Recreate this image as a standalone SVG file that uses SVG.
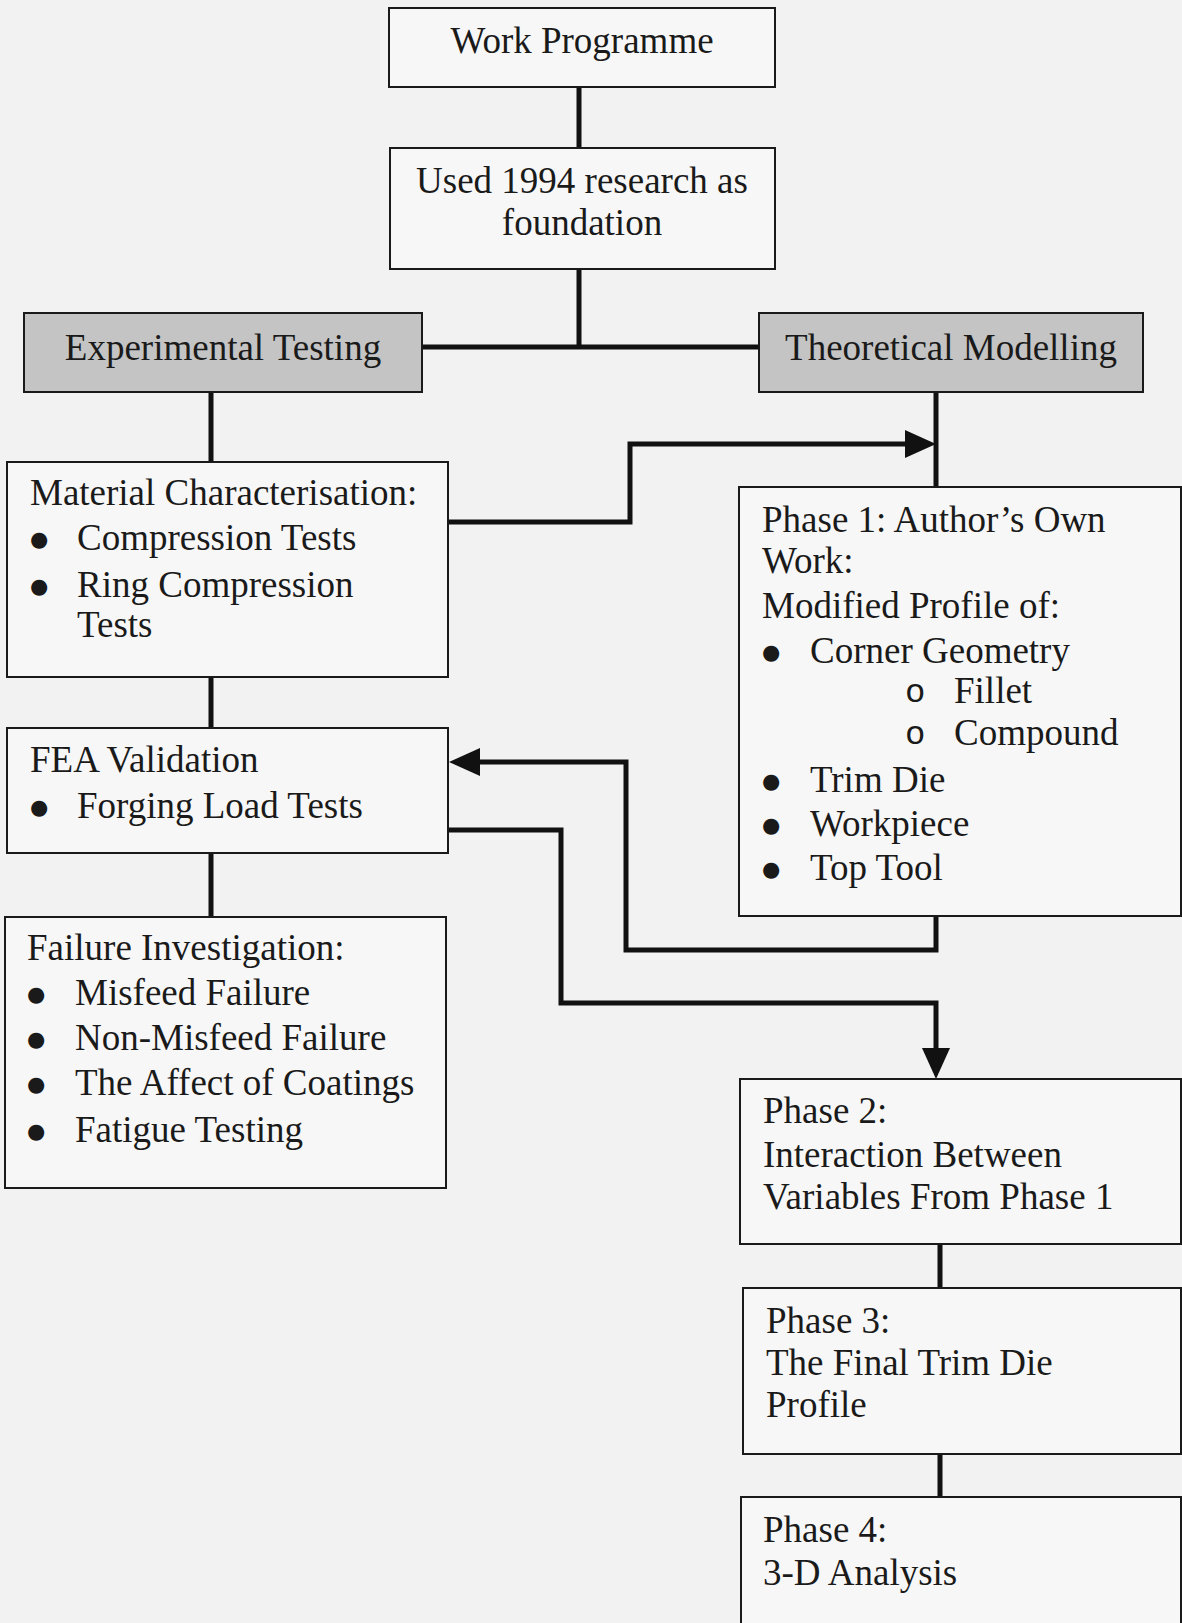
<svg xmlns="http://www.w3.org/2000/svg" width="1182" height="1623" viewBox="0 0 1182 1623">
<defs>
<style>
.box{fill:#f7f7f7;stroke:#1a1a1a;stroke-width:2}
.hdr{fill:#c4c4c4;stroke:#1a1a1a;stroke-width:2}
text{font-family:"Liberation Serif","Times New Roman",serif;font-size:37px;fill:#1a1a1a}
.c{text-anchor:middle}
.b{font-family:"DejaVu Sans",sans-serif;font-size:21px}
.o{font-family:"Liberation Mono","Courier New",monospace;font-size:34px}
.conn{fill:none;stroke:#111;stroke-width:5;stroke-linejoin:miter}
</style>
<marker id="arr" viewBox="0 -14 31 28" refX="0" refY="0" markerWidth="31" markerHeight="28" markerUnits="userSpaceOnUse" orient="auto">
<path d="M0,-14 L31,0 L0,14 z" fill="#111"/>
</marker>
</defs>
<rect width="1182" height="1623" fill="#f2f2f2"/>
<g id="connectors">
<path class="conn" d="M579,87 V148"/>
<path class="conn" d="M579,269 V347"/>
<path class="conn" d="M422,347 H759"/>
<path class="conn" d="M211,392 V462"/>
<path class="conn" d="M211,677 V728"/>
<path class="conn" d="M211,853 V917"/>
<path class="conn" d="M936,392 V487"/>
<path class="conn" d="M940,1244 V1288"/>
<path class="conn" d="M940,1454 V1497"/>
<path class="conn" d="M448,522 H630 V444 H905" marker-end="url(#arr)"/>
<path class="conn" d="M936,916 V950 H626 V762 H480" marker-end="url(#arr)"/>
<path class="conn" d="M448,830 H561 V1003 H936 V1048" marker-end="url(#arr)"/>
</g>
<g id="work-programme">
<rect class="box" x="389" y="8" width="386" height="79"/>
<text class="c" x="582" y="53">Work Programme</text>
</g>
<g id="used-1994">
<rect class="box" x="390" y="148" width="385" height="121"/>
<text class="c" x="582" y="193">Used 1994 research as</text>
<text class="c" x="582" y="235">foundation</text>
</g>
<g id="experimental-testing">
<rect class="hdr" x="24" y="313" width="398" height="79"/>
<text class="c" x="223" y="360">Experimental Testing</text>
</g>
<g id="theoretical-modelling">
<rect class="hdr" x="759" y="313" width="384" height="79"/>
<text class="c" x="951" y="360">Theoretical Modelling</text>
</g>
<g id="material-characterisation">
<rect class="box" x="7" y="462" width="441" height="215"/>
<text x="30" y="505">Material Characterisation:</text>
<text class="b" x="30" y="546">●</text><text x="77" y="550">Compression Tests</text>
<text class="b" x="30" y="593">●</text><text x="77" y="597">Ring Compression</text>
<text x="77" y="637">Tests</text>
</g>
<g id="fea-validation">
<rect class="box" x="7" y="728" width="441" height="125"/>
<text x="30" y="772">FEA Validation</text>
<text class="b" x="30" y="814">●</text><text x="77" y="818">Forging Load Tests</text>
</g>
<g id="failure-investigation">
<rect class="box" x="5" y="917" width="441" height="271"/>
<text x="27" y="960">Failure Investigation:</text>
<text class="b" x="27" y="1001">●</text><text x="75" y="1005">Misfeed Failure</text>
<text class="b" x="27" y="1046">●</text><text x="75" y="1050">Non-Misfeed Failure</text>
<text class="b" x="27" y="1091">●</text><text x="75" y="1095">The Affect of Coatings</text>
<text class="b" x="27" y="1138">●</text><text x="75" y="1142">Fatigue Testing</text>
</g>
<g id="phase-1">
<rect class="box" x="739" y="487" width="442" height="429"/>
<text x="762" y="532">Phase 1: Author’s Own</text>
<text x="762" y="573">Work:</text>
<text x="762" y="618">Modified Profile of:</text>
<text class="b" x="762" y="659">●</text><text x="810" y="663">Corner Geometry</text>
<text class="o" x="905" y="702">o</text><text x="954" y="703">Fillet</text>
<text class="o" x="905" y="744">o</text><text x="954" y="745">Compound</text>
<text class="b" x="762" y="788">●</text><text x="810" y="792">Trim Die</text>
<text class="b" x="762" y="832">●</text><text x="810" y="836">Workpiece</text>
<text class="b" x="762" y="876">●</text><text x="810" y="880">Top Tool</text>
</g>
<g id="phase-2">
<rect class="box" x="740" y="1079" width="441" height="165"/>
<text x="763" y="1123">Phase 2:</text>
<text x="763" y="1167">Interaction Between</text>
<text x="763" y="1209">Variables From Phase 1</text>
</g>
<g id="phase-3">
<rect class="box" x="743" y="1288" width="438" height="166"/>
<text x="766" y="1333">Phase 3:</text>
<text x="766" y="1375">The Final Trim Die</text>
<text x="766" y="1417">Profile</text>
</g>
<g id="phase-4">
<rect class="box" x="741" y="1497" width="440" height="140"/>
<text x="763" y="1542">Phase 4:</text>
<text x="763" y="1585">3-D Analysis</text>
</g>
</svg>
